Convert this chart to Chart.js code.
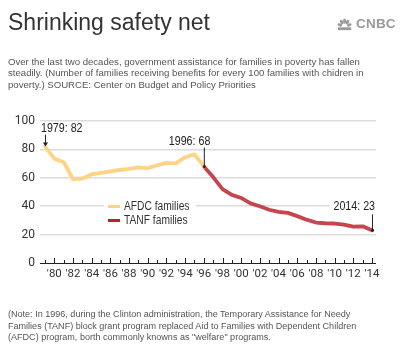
<!DOCTYPE html>
<html>
<head>
<meta charset="utf-8">
<script src="https://cdn.jsdelivr.net/npm/chart.js@4/dist/chart.umd.min.js"></script>
<style>
  html, body { margin: 0; padding: 0; background: #fff; }
  #wrap { position: relative; width: 400px; height: 357px; overflow: hidden; font-family: "Liberation Sans", Arial, sans-serif; }
  #chartBox { position: absolute; left: 0; top: 0; width: 400px; height: 357px; }
  #title { position: absolute; left: 8px; top: 8px; font-size: 23px; line-height: 28px; color: #333; white-space: nowrap; }
  #logo { position: absolute; left: 337px; top: 15px; height: 17px; display: flex; align-items: center; }
  #logo span { font-family: "Liberation Sans", Arial, sans-serif; font-weight: bold; font-size: 13.5px; color: #9a9a9a; letter-spacing: 0.2px; margin-left: 2px; }
  .small { position: absolute; left: 8px; color: #555; white-space: nowrap; }
  #sub { top: 56px; font-size: 9.6px; line-height: 11.3px; }
  #note { top: 309px; font-size: 9.05px; line-height: 11.5px; }
</style>
</head>
<body>
<div id="wrap">
  <div id="chartBox"><canvas id="c"></canvas></div>
  <div id="title">Shrinking safety net</div>
  <div id="logo">
    <svg width="17" height="14" viewBox="0 0 18 14">
      <g fill="#9a9a9a">
        <ellipse cx="3" cy="8" rx="2.6" ry="1.6" transform="rotate(25 3 8)"/>
        <ellipse cx="5" cy="5" rx="2.6" ry="1.6" transform="rotate(55 5 5)"/>
        <ellipse cx="8" cy="4" rx="1.6" ry="2.8"/>
        <ellipse cx="11" cy="5" rx="2.6" ry="1.6" transform="rotate(-55 11 5)"/>
        <ellipse cx="13" cy="8" rx="2.6" ry="1.6" transform="rotate(-25 13 8)"/>
        <rect x="1" y="10.5" width="14" height="3"/>
      </g>
    </svg>
    <span>CNBC</span>
  </div>
  <div id="sub" class="small">Over the last two decades, government assistance for families in poverty has fallen<br>steadily. (Number of families receiving benefits for every 100 families with chidren in<br>poverty.) SOURCE: Center on Budget and Policy Priorities</div>
  <div id="note" class="small">(Note: In 1996, during the Clinton administration, the Temporary Assistance for Needy<br>Families (TANF) block grant program replaced Aid to Families with Dependent Children<br>(AFDC) program, borth commonly knowns as "welfare" programs.</div>
</div>
<script>
// ---- data ----
const afdcYears = [1979,1980,1981,1982,1983,1984,1985,1986,1987,1988,1989,1990,1991,1992,1993,1994,1995,1996];
const afdcValues = [82,73.5,71,59,59.5,62.5,63.5,64.5,65.5,66.2,67.3,66.8,68.8,70.5,70.2,74.5,76.5,68];
const tanfYears = [1996,1997,1998,1999,2000,2001,2002,2003,2004,2005,2006,2007,2008,2009,2010,2011,2012,2013,2014];
const tanfValues = [68,60.5,52,48,45.8,42,40,37.5,36,35.3,33,30.5,28.5,28,27.8,27,25.6,25.8,23];
const xTickYears = [1980,1982,1984,1986,1988,1990,1992,1994,1996,1998,2000,2002,2004,2006,2008,2010,2012,2014];
const yTicks = [0,20,40,60,80,100];
const seriesNames = ["AFDC families", "TANF families"];
const annotations = [
  { label: "1979: 82", year: 1979, value: 82 },
  { label: "1996: 68", year: 1996, value: 68 },
  { label: "2014: 23", year: 2014, value: 23 }
];

const AFDC_COLOR = "#fdd485";
const TANF_COLOR = "#c6454e";
const SANS = '"Liberation Sans", Arial, sans-serif';
const SQUEEZE = 0.82;

function toPts(xs, ys) { return xs.map((x, i) => ({ x: x, y: ys[i] })); }

function narrowText(ctx, text, x, y, align) {
  const w = ctx.measureText(text).width * SQUEEZE;
  let left = x;
  if (align === "right") left = x - w;
  else if (align === "center") left = x - w / 2;
  ctx.save();
  ctx.translate(left, y);
  ctx.scale(SQUEEZE, 1);
  ctx.textAlign = "left";
  ctx.fillText(text, 0, 0);
  ctx.restore();
  return w;
}

const decorPlugin = {
  id: "decor",
  afterDraw(chart) {
    const ctx = chart.ctx;
    const xs = chart.scales.x, ys = chart.scales.y;
    const area = chart.chartArea;
    ctx.save();
    // axis line
    const y0 = ys.getPixelForValue(0);
    ctx.strokeStyle = "#222";
    ctx.lineWidth = 1;
    ctx.beginPath();
    ctx.moveTo(area.left, y0 + 0.5);
    ctx.lineTo(area.right, y0 + 0.5);
    ctx.stroke();
    // year ticks (upward)
    for (let yr = 1979; yr <= 2014; yr++) {
      const px = Math.round(xs.getPixelForValue(yr)) + 0.5;
      const len = (yr % 2 === 0) ? 5 : 3;
      ctx.beginPath();
      ctx.moveTo(px, y0);
      ctx.lineTo(px, y0 - len);
      ctx.stroke();
    }
    // legend
    const lx = 108, ly1 = 206.5, ly2 = 220.5;
    ctx.fillStyle = "#fff";
    ctx.fillRect(lx - 4, ly1 - 8, 92, 24);
    ctx.font = "12.5px " + SANS;
    ctx.textBaseline = "middle";
    ctx.lineWidth = 3;
    ctx.strokeStyle = AFDC_COLOR;
    ctx.beginPath(); ctx.moveTo(lx, ly1); ctx.lineTo(lx + 12, ly1); ctx.stroke();
    ctx.strokeStyle = "#b8222e";
    ctx.beginPath(); ctx.moveTo(lx, ly2); ctx.lineTo(lx + 12, ly2); ctx.stroke();
    ctx.fillStyle = "#333";
    narrowText(ctx, seriesNames[0], lx + 16, ly1, "left");
    narrowText(ctx, seriesNames[1], lx + 16, ly2, "left");

    // annotations
    ctx.font = "13px " + SANS;
    ctx.fillStyle = "#222";
    ctx.strokeStyle = "#222";
    ctx.lineWidth = 1;
    // 1979
    {
      const a = annotations[0];
      const px = xs.getPixelForValue(a.year), py = ys.getPixelForValue(a.value);
      narrowText(ctx, a.label, px - 4, py - 18, "left");
      ctx.beginPath(); ctx.moveTo(px + 0.5, py - 12); ctx.lineTo(px + 0.5, py - 3); ctx.stroke();
      ctx.beginPath(); ctx.moveTo(px - 2, py - 4); ctx.lineTo(px + 3, py - 4); ctx.lineTo(px + 0.5, py); ctx.closePath(); ctx.fill();
    }
    // 1996
    {
      const a = annotations[1];
      const px = xs.getPixelForValue(a.year), py = ys.getPixelForValue(a.value);
      narrowText(ctx, a.label, px + 6.5, py - 25, "right");
      ctx.beginPath(); ctx.moveTo(px + 0.5, py - 19); ctx.lineTo(px + 0.5, py); ctx.stroke();
      ctx.beginPath(); ctx.arc(px + 0.5, py, 1.5, 0, Math.PI * 2); ctx.fill();
    }
    // 2014
    {
      const a = annotations[2];
      const px = xs.getPixelForValue(a.year), py = ys.getPixelForValue(a.value);
      const tw = ctx.measureText(a.label).width * SQUEEZE;
      ctx.fillStyle = "#fff";
      ctx.fillRect(px + 3 - tw - 4, py - 31, tw + 8, 14);
      ctx.fillStyle = "#222";
      narrowText(ctx, a.label, px + 3, py - 23.5, "right");
      ctx.beginPath(); ctx.moveTo(px + 0.5, py - 16); ctx.lineTo(px + 0.5, py); ctx.stroke();
      ctx.beginPath(); ctx.arc(px + 0.5, py, 1.5, 0, Math.PI * 2); ctx.fill();
    }
    ctx.restore();
  }
};

new Chart(document.getElementById("c"), {
  type: "line",
  data: {
    datasets: [
      { label: seriesNames[0], data: toPts(afdcYears, afdcValues), borderColor: AFDC_COLOR, borderWidth: 3.8, pointRadius: 0, tension: 0, borderJoinStyle: "round", borderCapStyle: "round" },
      { label: seriesNames[1], data: toPts(tanfYears, tanfValues), borderColor: TANF_COLOR, borderWidth: 3.8, pointRadius: 0, tension: 0, borderJoinStyle: "round", borderCapStyle: "round" }
    ]
  },
  options: {
    responsive: true,
    maintainAspectRatio: false,
    animation: false,
    layout: { padding: { left: 0, right: 24, top: 121, bottom: 74 } },
    plugins: { legend: { display: false }, tooltip: { enabled: false } },
    scales: {
      x: {
        type: "linear",
        min: 1978.465,
        max: 2014.43,
        afterFit: (s) => { s.height = 20; },
        afterBuildTicks: (s) => { s.ticks = xTickYears.map(v => ({ value: v })); },
        grid: { display: false, drawTicks: false },
        border: { display: false },
        ticks: {
          autoSkip: false, maxRotation: 0, padding: 4,
          color: "#333",
          font: { family: "Roboto", size: 11.5 },
          callback: (v) => "'" + String(v).slice(2)
        }
      },
      y: {
        min: 0, max: 100,
        afterFit: (s) => { s.width = 40; },
        afterBuildTicks: (s) => { s.ticks = yTicks.map(v => ({ value: v })); },
        grid: { color: (c) => c.tick && c.tick.value === 0 ? "rgba(0,0,0,0)" : "#dcdcdc", lineWidth: 1.5, drawTicks: false },
        border: { display: false },
        ticks: { padding: 5, color: "#333", font: { family: "Roboto", size: 12 } }
      }
    }
  },
  plugins: [decorPlugin]
});
</script>
</body>
</html>
